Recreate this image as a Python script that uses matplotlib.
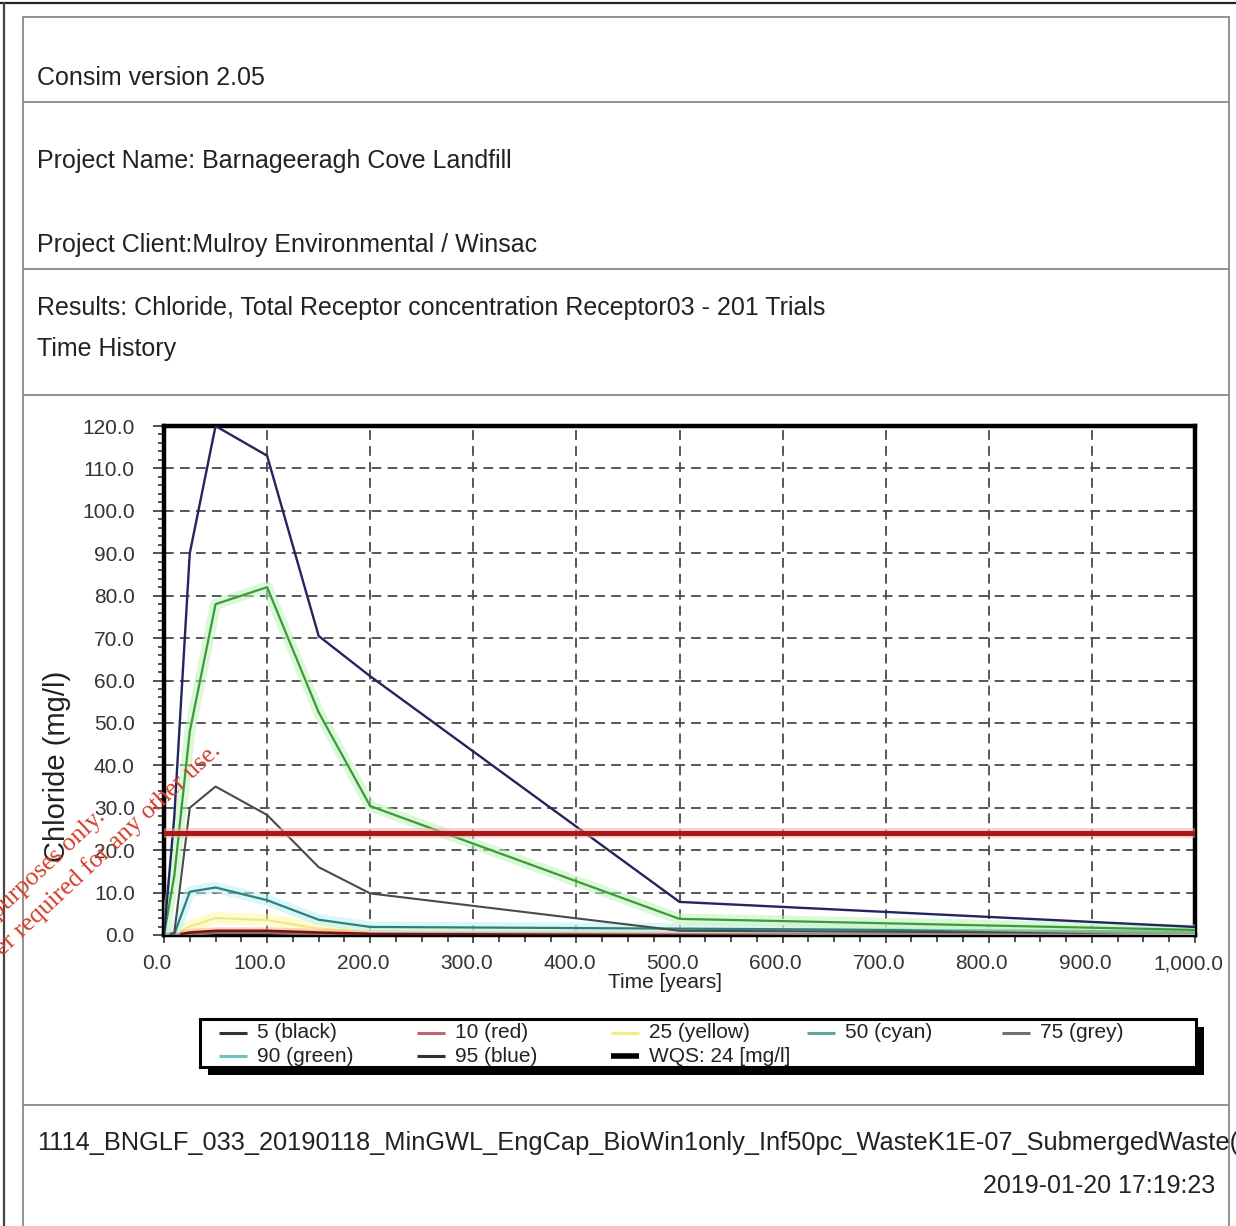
import matplotlib
matplotlib.use("Agg")
import matplotlib.pyplot as plt
import matplotlib.patheffects as pe
import matplotlib.transforms as mtransforms
from matplotlib.ticker import MultipleLocator, FuncFormatter
from matplotlib.patches import Rectangle

# ---------------------------------------------------------------- data
time_years = [0, 10, 25, 50, 100, 150, 200, 500, 1000]

p5_black = [0, 0, 0.3, 0.5, 0.5, 0.3, 0.2, 0.1, 0.05]
p10_red = [0, 0, 0.6, 1.0, 1.0, 0.6, 0.3, 0.2, 0.1]
p25_yellow = [0, 0, 2.0, 4.0, 3.5, 1.5, 0.8, 0.5, 0.3]
p50_cyan = [0, 0.2, 10.2, 11.2, 8.2, 3.6, 1.9, 1.5, 0.8]
p75_grey = [0, 0.5, 30.0, 35.0, 28.3, 16.0, 9.8, 1.0, 0.4]
p90_green = [0, 14.0, 48.0, 78.0, 82.0, 52.5, 30.4, 3.8, 1.2]
p95_blue = [0, 28.0, 90.0, 120.0, 113.0, 70.5, 61.0, 7.8, 1.9]

wqs_limit = 24.0

legend_labels = ["5 (black)", "10 (red)", "25 (yellow)", "50 (cyan)", "75 (grey)",
                 "90 (green)", "95 (blue)", "WQS: 24 [mg/l]"]

header_lines = ["Consim version 2.05",
                "Project Name: Barnageeragh Cove Landfill",
                "Project Client:Mulroy Environmental / Winsac",
                "Results: Chloride, Total Receptor concentration Receptor03 - 201 Trials",
                "Time History"]
run_name = "1114_BNGLF_033_20190118_MinGWL_EngCap_BioWin1only_Inf50pc_WasteK1E-07_SubmergedWaste("
run_stamp = "2019-01-20 17:19:23"
stamp_lines = ["purposes only.",
               "er required for any other use."]

# ---------------------------------------------------------------- figure
plt.rcParams["font.family"] = ["Liberation Sans", "DejaVu Sans"]
plt.rcParams["lines.scale_dashes"] = False

W, H = 1236, 1226
fig = plt.figure(figsize=(W / 100, H / 100), dpi=100)
fig.patch.set_facecolor("white")


def px_box(x0, y0, x1, y1):
    """Pixel rectangle (origin top-left) -> figure fraction [l, b, w, h]."""
    return [x0 / W, 1 - y1 / H, (x1 - x0) / W, (y1 - y0) / H]


ax = fig.add_axes(px_box(164, 426, 1195, 935))
ax.set_xlim(0, 1000)
ax.set_ylim(0, 120)


def halo(color, width):
    return [pe.Stroke(linewidth=width, foreground=color, alpha=0.55), pe.Normal()]


ax.plot(time_years, p5_black, color="#151515", lw=1.6, zorder=4)
ax.plot(time_years, p10_red, color="#7a1010", lw=1.8, zorder=4,
        path_effects=halo("#f2b0a0", 5))
ax.plot(time_years, p25_yellow, color="#f0e880", lw=1.5, zorder=3,
        path_effects=halo("#fff6a8", 9))
ax.plot(time_years, p50_cyan, color="#2e7f80", lw=1.6, zorder=4,
        path_effects=halo("#bdf2f2", 8))
ax.plot(time_years, p75_grey, color="#4a4a4a", lw=1.5, zorder=4)
ax.plot(time_years, p90_green, color="#3c9a3c", lw=1.6, zorder=4,
        path_effects=halo("#bff4b8", 8))
ax.plot(time_years, p95_blue, color="#24245e", lw=1.7, zorder=4)
ax.axhline(wqs_limit, color="#a81818", lw=3.6, zorder=5,
           path_effects=halo("#f0a8a8", 7))

# grid, ticks and frame
ax.xaxis.set_major_locator(MultipleLocator(100))
ax.xaxis.set_minor_locator(MultipleLocator(25))
ax.yaxis.set_major_locator(MultipleLocator(10))
ax.yaxis.set_minor_locator(MultipleLocator(2))
ax.xaxis.set_major_formatter(FuncFormatter(lambda v, p: f"{v:,.1f}"))
ax.yaxis.set_major_formatter(FuncFormatter(lambda v, p: f"{v:.1f}"))
ax.grid(True, which="major", color="#4a4a4a", lw=1.3, linestyle=(0, (7, 4.5)))
ax.set_axisbelow(True)
ax.tick_params(axis="both", which="both", direction="out", colors="#333333",
               width=1.2, labelsize=15)
ax.tick_params(axis="y", which="major", length=8, pad=13)
ax.tick_params(axis="y", which="minor", length=4.5)
ax.tick_params(axis="x", which="major", length=6, pad=8)
ax.tick_params(axis="x", which="minor", length=5)
for sp in ax.spines.values():
    sp.set_linewidth(3.2)
    sp.set_color("black")

# x tick labels sit a little left of their grid lines
shift = mtransforms.ScaledTranslation(-7 / 100, 0, fig.dpi_scale_trans)
for lbl in ax.get_xticklabels():
    lbl.set_transform(lbl.get_transform() + shift)

# ---------------------------------------------------------------- page overlay
page = fig.add_axes([0, 0, 1, 1], zorder=10)
page.set_xlim(0, W)
page.set_ylim(H, 0)
page.axis("off")
page.patch.set_alpha(0)

# outer frame
page.plot([0, W], [3, 3], color="#222222", lw=1.6)
page.plot([4, 4], [3, H], color="#444444", lw=1.6)
# report table
box_col = "#8a8a8a"
page.plot([23, 23], [17, H], color=box_col, lw=1.3)
page.plot([1229, 1229], [17, H], color=box_col, lw=1.3)
for yy in [17, 102, 269, 395, 1105]:
    page.plot([23, 1229], [yy, yy], color=box_col, lw=1.3)

txt_kw = dict(fontsize=18, color="#222222", va="center", ha="left")
page.text(37, 78, header_lines[0], **txt_kw)
page.text(37, 161, header_lines[1], **txt_kw)
page.text(37, 245, header_lines[2], **txt_kw)
page.text(37, 308, header_lines[3], **txt_kw)
page.text(37, 349, header_lines[4], **txt_kw)
footer = page.text(37, 1143, run_name, fontsize=18.3, color="#222222",
                   va="center", ha="left")
cell = Rectangle((23, 1105), 1208, 121, transform=page.transData)
footer.set_clip_path(cell)
page.text(1215, 1186, run_stamp, fontsize=18, color="#222222", va="center", ha="right")

# axis titles
page.text(57, 766, "Chloride (mg/l)", rotation=90, fontsize=21, color="#222222",
          ha="center", va="center")
page.text(665, 982, "Time [years]", fontsize=15, color="#222222",
          ha="center", va="center")

# legend with drop shadow
page.add_patch(Rectangle((208, 1027), 996, 48, facecolor="black", edgecolor="none"))
page.add_patch(Rectangle((200, 1019), 996, 48, facecolor="white", edgecolor="black", lw=2.2))
legend_colors = ["#303030", "#c86070", "#f2f07a", "#5fa5a0", "#707070",
                 "#6cc4bc", "#303030", "#000000"]
legend_widths = [2.2, 2.2, 2.2, 2.2, 2.2, 2.2, 2.2, 4.0]
col_x = [257, 455, 649, 845, 1040]
row_y = [1033, 1056]
for i, (lab, col, lw) in enumerate(zip(legend_labels, legend_colors, legend_widths)):
    r, c = divmod(i, 5)
    tx, ty = col_x[c], row_y[r]
    page.plot([tx - 38, tx - 10], [ty, ty], color=col, lw=lw, solid_capstyle="butt")
    page.text(tx, ty, lab, fontsize=15, color="#222222", va="center", ha="left")

# inspection stamp across the chart
stamp_kw = dict(family=["Liberation Serif", "DejaVu Serif"], fontsize=18.5,
                color="#d2402c", rotation=43, rotation_mode="anchor",
                ha="right", va="baseline")
page.text(106, 818, stamp_lines[0], **stamp_kw)
page.text(222, 752, stamp_lines[1], **stamp_kw)

fig.savefig("out.png", dpi=100, facecolor="white")
